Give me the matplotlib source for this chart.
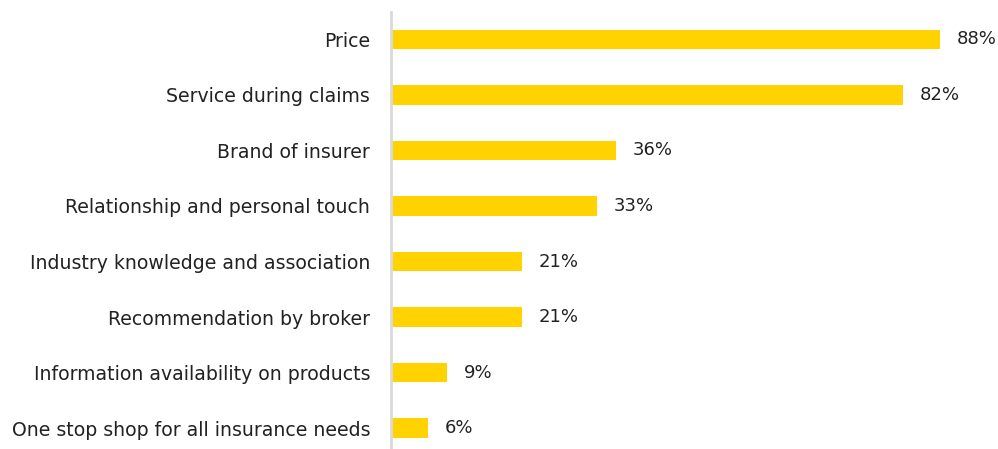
import matplotlib
matplotlib.use("Agg")
import matplotlib.pyplot as plt

categories = ["Price", "Service during claims", "Brand of insurer",
              "Relationship and personal touch", "Industry knowledge and association",
              "Recommendation by broker", "Information availability on products",
              "One stop shop for all insurance needs"]
values = [88, 82, 36, 33, 21, 21, 9, 6]

fig = plt.figure(figsize=(9.98, 4.49), dpi=100)
ax = fig.add_axes([391/998, 0, (998-391)/998, (449-12)/449])

y = list(range(len(categories)))
ax.barh(y, values, height=0.35, color="#FFD200", zorder=2)
ax.set_xlim(0, (998-391)/6.24)
ax.set_ylim(7.378, -0.495)

ax.set_yticks(y)
ax.set_yticklabels(categories, fontsize=13.6, color="#222222")
ax.tick_params(axis="y", length=0, pad=15)
ax.set_xticks([])
for s in ["top", "right", "bottom"]:
    ax.spines[s].set_visible(False)
ax.spines["left"].set_color("#d9d9d9")
ax.spines["left"].set_linewidth(2)

for yi, v in zip(y, values):
    ax.annotate(f"{v}%", (v, yi), xytext=(12, 0), textcoords="offset points",
                va="center", ha="left", fontsize=13, color="#222222")

fig.savefig("out.png", dpi=100)
